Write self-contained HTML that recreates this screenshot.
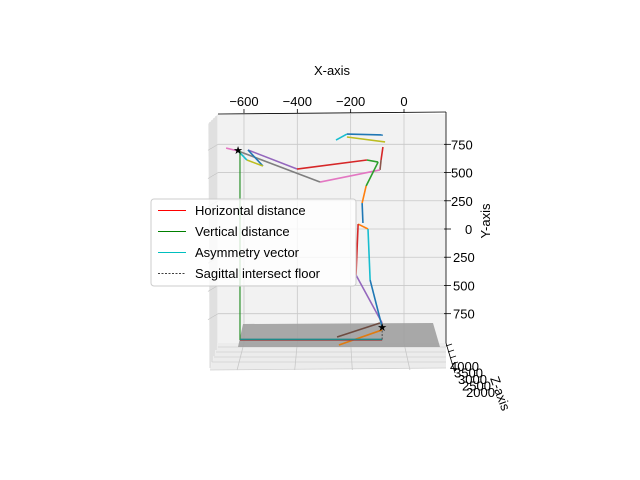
<!DOCTYPE html>
<html><head><meta charset="utf-8"><style>
html,body{margin:0;padding:0;background:#fff;}
svg{display:block;font-family:"Liberation Sans","DejaVu Sans",sans-serif;}
</style></head><body>
<svg id="chart" width="640" height="480" viewBox="0 0 640 480" xmlns="http://www.w3.org/2000/svg">
<rect width="640" height="480" fill="#fff"/>
<g id="panes">
  <polygon points="208,124 218,114 218,343 210,370" fill="#ececec"/>
  <polygon points="218,343 446,343 446,368 210,370" fill="#ececec"/>
  <rect x="218" y="114" width="228" height="229" fill="#f2f2f2"/>
  <g stroke="#d0d0d0" stroke-width="0.8" fill="none">
    <line x1="210" y1="122" x2="210" y2="368"/><line x1="212" y1="120" x2="212" y2="362"/>
    <line x1="214" y1="118" x2="214" y2="356"/><line x1="216" y1="116" x2="216" y2="350"/>
    <line x1="218" y1="347" x2="446" y2="347"/><line x1="216" y1="352" x2="446" y2="352"/>
    <line x1="214" y1="357" x2="446" y2="357"/><line x1="212" y1="362" x2="446" y2="362"/>
    <line x1="210" y1="370" x2="446" y2="368"/>
  </g>
</g>
<g id="grid" stroke="#c8c8c8" stroke-width="0.8"></g>
<polygon points="243,324 433,323 440,347 238,347" fill="#a0a0a0" fill-opacity="0.9"/>
<g id="series"></g>
<g id="axes" font-size="13" fill="#000"></g>
<g id="legend">
  <rect x="151" y="199" width="205" height="87" rx="3" fill="#fff" fill-opacity="0.8" stroke="#ccc"/>
  <line x1="158" y1="210.5" x2="186" y2="210.5" stroke="#ff0000" stroke-width="1"/>
  <text x="195" y="215" font-size="13">Horizontal distance</text>
  <line x1="158" y1="231.5" x2="186" y2="231.5" stroke="#008000" stroke-width="1"/>
  <text x="195" y="236" font-size="13">Vertical distance</text>
  <line x1="158" y1="252.5" x2="186" y2="252.5" stroke="#00bfbf" stroke-width="1"/>
  <text x="195" y="257" font-size="13">Asymmetry vector</text>
  <line x1="158" y1="273.5" x2="186" y2="273.5" stroke="#000" stroke-width="0.8" stroke-dasharray="2,1.5"/>
  <text x="195" y="278" font-size="13">Sagittal intersect floor</text>
</g>
<text x="332" y="75" text-anchor="middle" font-size="13">X-axis</text>
<text x="0" y="0" text-anchor="middle" font-size="13" transform="translate(490,221) rotate(-90)">Y-axis</text>
<text x="0" y="0" text-anchor="middle" font-size="13" transform="translate(496,395) rotate(70)">Z-axis</text>
</svg>
<script>
var xTicks=[-600,-400,-200,0];
var yTicks=[-750,-500,-250,0,250,500,750];
var zTicks=[4000,3500,3000,2500,2000];
var segX1=[-214,-255,-214,-79,-86,-667,-315,-622,-585,-401,-139,-97,-142,-157,-585,-622,-589,-172,-172,-135,-180,-127,-251,-244,-615,-615,-615];
var segY1=[-841,-788,-815,-726,-611,-717,-416,-691,-700,-531,-611,-593,-381,-230,-700,-691,-611,-44,-44,0,407,452,957,1027,-691,983,978];
var segX2=[-79,-214,-71,-86,-90,-622,-90,-315,-401,-139,-97,-142,-157,-154,-529,-589,-529,-135,-180,-127,-82,-82,-90,-82,-615,-82,-82];
var segY2=[-833,-841,-771,-611,-523,-691,-523,-416,-531,-611,-593,-381,-230,-53,-558,-611,-558,0,407,452,833,868,833,894,983,983,978];
var segColor=["#1f77b4","#17becf","#bcbd22","#d62728","#8c564b","#e377c2","#e377c2","#7f7f7f","#9467bd","#d62728","#2ca02c","#2ca02c","#ff7f0e","#1f77b4","#1f77b4","#17becf","#bcbd22","#ff7f0e","#d62728","#17becf","#9467bd","#1f77b4","#6d4c41","#e07b10","#1a8a1a","#d62728","#1f8a8a"];
var starX=[-622,-82];
var starY=[-700,868];
(function(){
var NS="http://www.w3.org/2000/svg";
function px(x){return 404+x*0.2667;}
function py(y){return 229+y*0.1129;}
function mk(tag,attrs,parent){var e=document.createElementNS(NS,tag);for(var k in attrs)e.setAttribute(k,attrs[k]);parent.appendChild(e);return e;}
var grid=document.getElementById('grid');
xTicks.forEach(function(v){var x=px(v);
  var g=mk('line',{x1:x,y1:114,x2:x,y2:343},grid);
  
  
  var f=mk('line',{x1:x,y1:343,x2:x+(x-330)*0.08,y2:370},grid);
  
  
});
yTicks.forEach(function(v){var y=py(v);
  var g=mk('line',{x1:218,y1:y,x2:446,y2:y},grid);
  
  
  var l=mk('line',{x1:208,y1:y+6,x2:218,y2:y},grid);
  
  
});
var ser=document.getElementById('series');
for(var i=0;i<segX1.length;i++){
  var l=mk('line',{x1:px(segX1[i]),y1:py(segY1[i]),x2:px(segX2[i]),y2:py(segY2[i]),stroke:segColor[i],'stroke-width':(i===24?1.1:1.6)},ser);
  
  
}
var dl=mk('line',{x1:px(-82),y1:py(868),x2:px(-82),y2:py(983),stroke:'#333','stroke-width':0.8,'stroke-dasharray':'2,1.5'},ser);


for(var j=0;j<starX.length;j++){
  var t=mk('text',{x:px(starX[j]),y:py(starY[j])+4,'text-anchor':'middle','font-size':11},ser);
  t.textContent='\u2605';
  
  
}
var ax=document.getElementById('axes');
mk('line',{x1:218,y1:114,x2:446,y2:112,stroke:'#000','stroke-width':0.8},ax);
mk('line',{x1:446,y1:112,x2:446,y2:343,stroke:'#000','stroke-width':0.8},ax);
mk('line',{x1:446,y1:343,x2:455,y2:373,stroke:'#000','stroke-width':0.8},ax);
xTicks.forEach(function(v){var x=px(v);
  mk('line',{x1:x,y1:113,x2:x,y2:109,stroke:'#000','stroke-width':0.8},ax);
  var t=mk('text',{x:x,y:106,'text-anchor':'middle'},ax);
  t.textContent=v<0?'\u2212'+(-v):String(v);
  
  
});
yTicks.forEach(function(v){var y=py(v);
  mk('line',{x1:444,y1:y,x2:451,y2:y,stroke:'#000','stroke-width':0.8},ax);
  var t=mk('text',{x:v===0?465:(v<0?451:453),y:y+5,'text-anchor':'start'},ax);
  t.textContent=String(Math.abs(v));
  
  
});
zTicks.forEach(function(v,i){
  mk('line',{x1:446+i*2,y1:346+i*6,x2:452+i*2,y2:344+i*6,stroke:'#000','stroke-width':0.8},ax);
  var t=mk('text',{x:450+i*4,y:371+i*6.5},ax);
  t.textContent=String(v);
  
  
});
})();
</script>
</body></html>
